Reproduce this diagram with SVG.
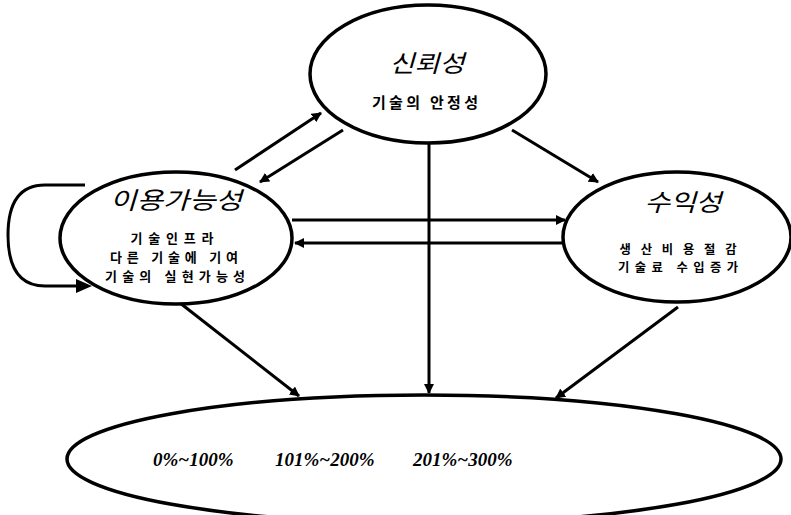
<svg xmlns="http://www.w3.org/2000/svg" width="791" height="515" viewBox="0 0 791 515">
<defs>
<marker id="ah" markerWidth="10" markerHeight="10" refX="9" refY="5" orient="auto" markerUnits="userSpaceOnUse" viewBox="0 0 10 10">
<path d="M0,0 L10,5 L0,10 z" fill="#000"/>
</marker>
<style>
.node{fill:#fff;stroke:#000;stroke-width:3.5}
.ttl{font-family:"Noto Sans CJK KR","Noto Sans",sans-serif;font-style:italic;font-size:24px;fill:#000;text-anchor:middle}
.sub{font-family:"Noto Sans CJK KR","Noto Sans",sans-serif;font-weight:bold;font-size:15px;fill:#000;text-anchor:middle}
.md{font-size:13px}
.sm{font-size:12.3px}
.pct{font-family:"Liberation Serif",serif;font-weight:bold;font-style:italic;font-size:19px;fill:#000}
.c{fill:none;stroke:#000;stroke-width:3}
.ar{fill:none;stroke:#000;stroke-width:3;marker-end:url(#ah)}
</style>
</defs>
<rect width="791" height="515" fill="#fff"/>
<g id="connectors">
<path class="c" d="M85,185 L45,185 Q8,185 8,235 Q8,286 45,286 L80,286"/>
<path d="M76,279 L92,286 L76,293 z" fill="#000"/>
<line class="ar" x1="235" y1="170" x2="321" y2="113"/>
<line class="ar" x1="343" y1="130" x2="260" y2="182"/>
<line class="ar" x1="512" y1="130" x2="598" y2="182"/>
<line class="ar" x1="292" y1="220" x2="565" y2="220"/>
<line class="ar" x1="563" y1="243" x2="295" y2="243"/>
<line class="ar" x1="429" y1="143" x2="429" y2="393"/>
<line class="ar" x1="180" y1="303" x2="299" y2="396"/>
<line class="ar" x1="678" y1="307" x2="556" y2="398"/>
</g>
<g id="reliability">
<ellipse class="node" cx="428" cy="74" rx="118" ry="69"/>
<text class="ttl" x="427" y="72" textLength="75" lengthAdjust="spacingAndGlyphs">신뢰성</text>
<text class="sub" x="425" y="108" textLength="106" lengthAdjust="spacing">기술의 안정성</text>
</g>
<g id="availability">
<ellipse class="node" cx="176" cy="238" rx="116" ry="66"/>
<text class="ttl" x="176" y="209" textLength="132" lengthAdjust="spacingAndGlyphs">이용가능성</text>
<text class="sub md" x="172" y="243" textLength="83" lengthAdjust="spacing">기술인프라</text>
<text class="sub md" x="174" y="262" textLength="128" lengthAdjust="spacing">다른 기술에 기여</text>
<text class="sub md" x="175" y="281" textLength="140" lengthAdjust="spacing">기술의 실현가능성</text>
</g>
<g id="profitability">
<ellipse class="node" cx="677" cy="237" rx="114" ry="65"/>
<text class="ttl" x="683" y="211" textLength="77" lengthAdjust="spacingAndGlyphs">수익성</text>
<text class="sub sm" x="678" y="254" textLength="117" lengthAdjust="spacing">생산비용절감</text>
<text class="sub sm" x="678" y="272" textLength="120" lengthAdjust="spacing">기술료 수입증가</text>
</g>
<g id="range">
<ellipse class="node" cx="424" cy="459" rx="357" ry="64"/>
<text class="pct" x="153" y="466">0%~100%</text>
<text class="pct" x="275" y="466">101%~200%</text>
<text class="pct" x="413" y="466">201%~300%</text>
</g>
</svg>
